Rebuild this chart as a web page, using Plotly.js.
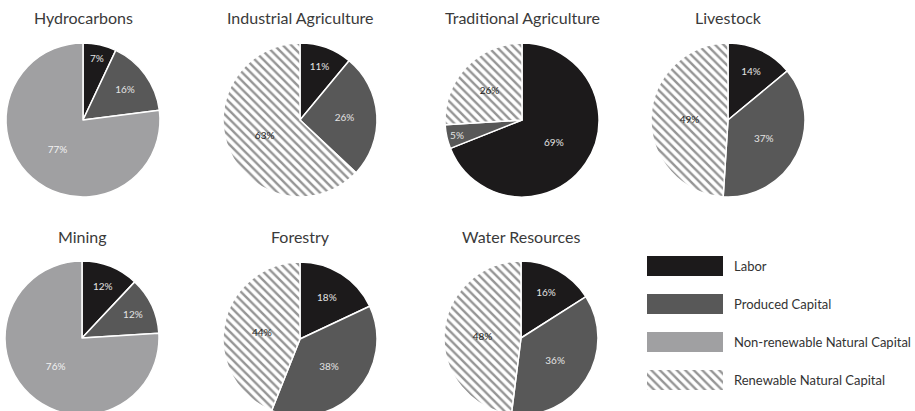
<!DOCTYPE html>
<html><head><meta charset="utf-8">
<script src="https://cdn.plot.ly/plotly-3.0.1.min.js"></script>
<style>html,body{margin:0;padding:0;overflow:hidden;background:#fff;width:915px;height:411px}</style>
</head><body><div id="chart" style="width:915px;height:420px"></div>
<script>
const categories = ["Labor", "Produced Capital", "Non-renewable Natural Capital", "Renewable Natural Capital"];
const sectors = ["Hydrocarbons", "Industrial Agriculture", "Traditional Agriculture", "Livestock", "Mining", "Forestry", "Water Resources"];
const hydrocarbons = [7, 16, 77, 0];
const industrialAgriculture = [11, 26, 0, 63];
const traditionalAgriculture = [69, 5, 0, 26];
const livestock = [14, 37, 0, 49];
const mining = [12, 12, 76, 0];
const forestry = [18, 38, 0, 44];
const waterResources = [16, 36, 0, 48];
const sectorValues = [hydrocarbons, industrialAgriculture, traditionalAgriculture, livestock, mining, forestry, waterResources];

const W = 915, H = 420;
const fills = ["#1c1a1b", "#585858", "#a0a0a2", "#959595"];
const shapes = ["", "", "", "\\"];
const txtColors = ["#e4e4e4", "#e4e4e4", "#f2f2f2", "#222222"];
const centers = [[83,120],[300,120],[522,120],[728,120],[82,338],[300,339],[521,338]];
const R = 77;
const FONT = "Lato, 'Open Sans', sans-serif";

const traces = [];
const annotations = [];
sectorValues.forEach((vals, i) => {
  const idx = vals.map((v, k) => k).filter(k => vals[k] > 0);
  const [cx, cy] = centers[i];
  traces.push({
    type: "pie",
    labels: idx.map(k => categories[k]),
    values: idx.map(k => vals[k]),
    sort: false,
    direction: "clockwise",
    rotation: 0,
    showlegend: false,
    textinfo: "text",
    texttemplate: "%{value}%",
    textposition: "inside",
    insidetextorientation: "horizontal",
    textfont: {family: FONT, size: 10, color: idx.map(k => txtColors[k])},
    marker: {
      colors: idx.map(k => fills[k]),
      line: {color: "#ffffff", width: 1.5},
      pattern: {shape: idx.map(k => shapes[k]), bgcolor: "#ffffff", size: 6, solidity: 0.4, fillmode: "replace"}
    },
    domain: {x: [(cx - R) / W, (cx + R) / W], y: [(H - cy - R) / H, (H - cy + R) / H]},
    hoverinfo: "label+value"
  });
  annotations.push({
    text: sectors[i], xref: "paper", yref: "paper",
    x: cx / W, y: (H - (i < 4 ? 18 : 236)) / H, xanchor: "center", yanchor: "middle",
    showarrow: false, font: {family: FONT, size: 16, color: "#3a3a3a"}
  });
});

// legend swatches drawn as bars
traces.push({
  type: "bar", orientation: "h",
  y: categories, x: categories.map(() => 1),
  width: 0.53,
  xaxis: "x", yaxis: "y", showlegend: false, hoverinfo: "y",
  marker: {
    color: fills,
    line: {width: 0},
    pattern: {shape: shapes, bgcolor: "#ffffff", size: 6, solidity: 0.4, fillmode: "replace"}
  }
});

const layout = {
  width: W, height: H,
  margin: {l: 0, r: 0, t: 0, b: 0},
  paper_bgcolor: "#ffffff", plot_bgcolor: "rgba(0,0,0,0)",
  showlegend: false,
  annotations: annotations,
  xaxis: {domain: [647 / W, 723 / W], range: [0, 1], visible: false, fixedrange: true},
  yaxis: {domain: [(H - 399) / H, (H - 247) / H], autorange: "reversed", side: "right",
    showgrid: false, zeroline: false, showline: false, ticks: "",
    ticklabelstandoff: 10, tickfont: {family: FONT, size: 13, color: "#333333"}, fixedrange: true}
};
Plotly.newPlot("chart", traces, layout, {displayModeBar: false, staticPlot: true});
</script></body></html>
